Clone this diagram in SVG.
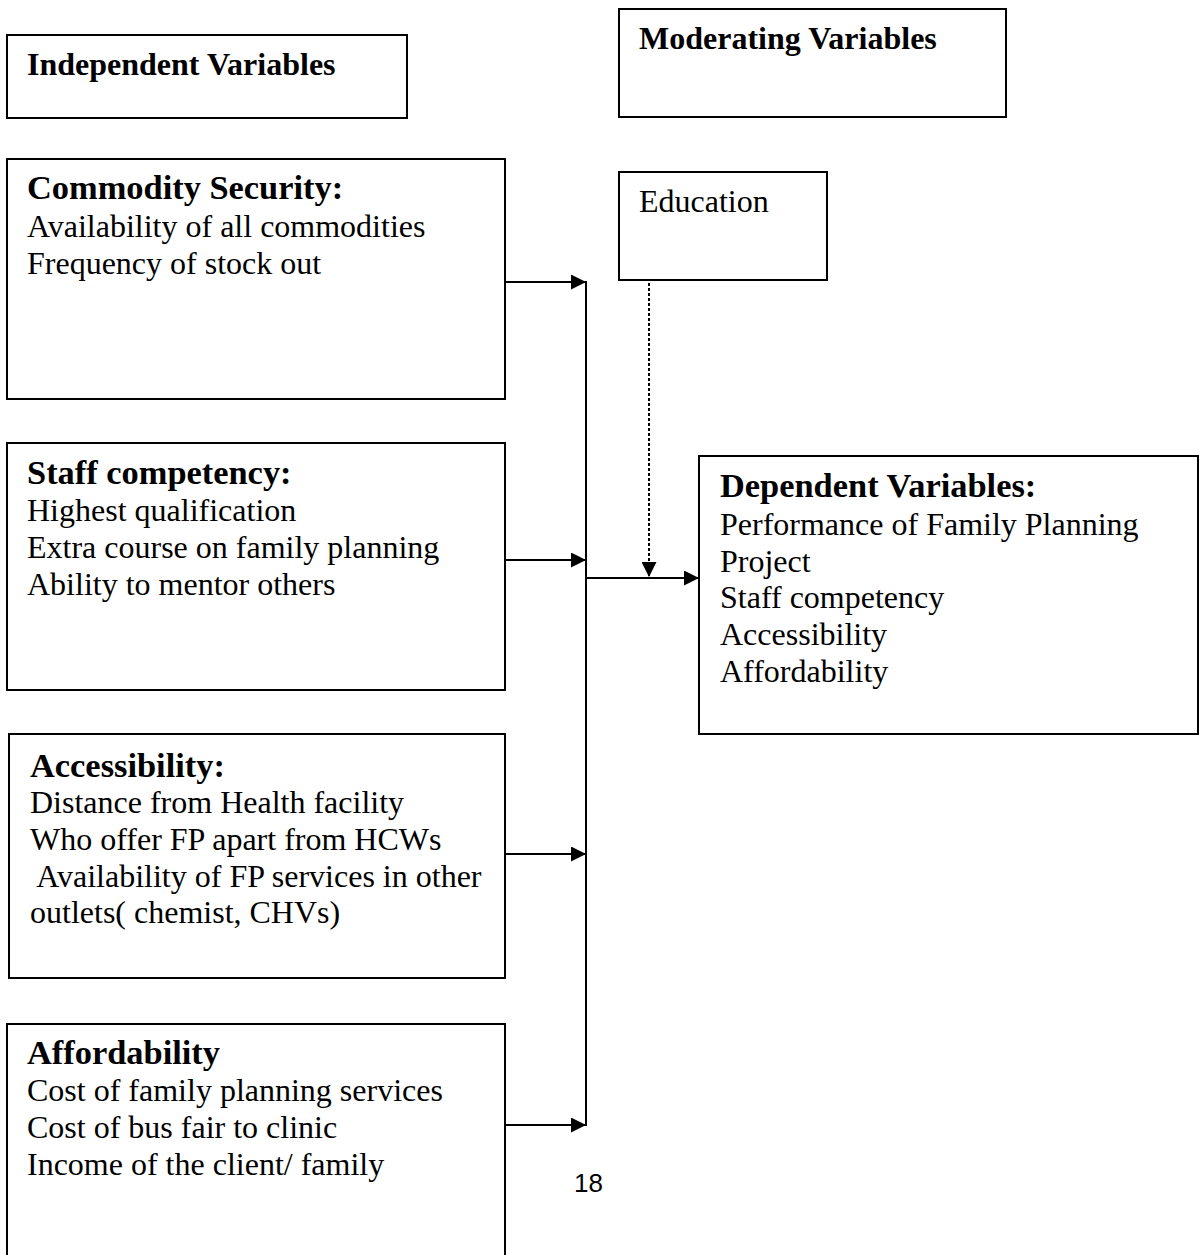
<svg xmlns="http://www.w3.org/2000/svg" width="1199" height="1255" viewBox="0 0 1199 1255">
<style>
rect.box{fill:#fff;stroke:#000;stroke-width:2}
text{font-family:"Liberation Serif","Times New Roman",serif;fill:#000}
.hd{font-size:32px;font-weight:bold}
.tt{font-size:34.4px;font-weight:bold}
.bd{font-size:32px}
.ln{stroke:#000;stroke-width:2;fill:none}
.dot{stroke:#000;stroke-width:2;fill:none;stroke-dasharray:3 2}
</style>
<defs>
<marker id="ah" markerWidth="15" markerHeight="15" refX="15" refY="7.5" orient="auto" markerUnits="userSpaceOnUse">
<path d="M0,0 L15,7.5 L0,15 Z" fill="#000"/>
</marker>
</defs>
<rect width="1199" height="1255" fill="#fff"/>
<g id="independent-header">
<rect class="box" x="7" y="35" width="400" height="83"/>
<text class="hd" x="27" y="75">Independent Variables</text>
</g>
<g id="moderating-header">
<rect class="box" x="619" y="9" width="387" height="108"/>
<text class="hd" x="639" y="49">Moderating Variables</text>
</g>
<g id="commodity-security">
<rect class="box" x="7" y="159" width="498" height="240"/>
<text class="tt" x="27" y="199">Commodity Security:</text>
<text class="bd" x="27" y="237">Availability of all commodities</text>
<text class="bd" x="27" y="274">Frequency of stock out</text>
</g>
<g id="education">
<rect class="box" x="619" y="172" width="208" height="108"/>
<text class="bd" x="639" y="212">Education</text>
</g>
<g id="staff-competency">
<rect class="box" x="7" y="443" width="498" height="247"/>
<text class="tt" x="27" y="484">Staff competency:</text>
<text class="bd" x="27" y="521">Highest qualification</text>
<text class="bd" x="27" y="558">Extra course on family planning</text>
<text class="bd" x="27" y="595">Ability to mentor others</text>
</g>
<g id="dependent">
<rect class="box" x="699" y="456" width="499" height="278"/>
<text class="tt" x="720" y="497">Dependent Variables:</text>
<text class="bd" x="720" y="535">Performance of Family Planning</text>
<text class="bd" x="720" y="572">Project</text>
<text class="bd" x="720" y="608">Staff competency</text>
<text class="bd" x="720" y="645">Accessibility</text>
<text class="bd" x="720" y="682">Affordability</text>
</g>
<g id="accessibility">
<rect class="box" x="9" y="734" width="496" height="244"/>
<text class="tt" x="30" y="777">Accessibility:</text>
<text class="bd" x="30" y="813">Distance from Health facility</text>
<text class="bd" x="30" y="850">Who offer FP apart from HCWs</text>
<text class="bd" x="30" y="887" xml:space="preserve"> Availability of FP services in other</text>
<text class="bd" x="30" y="923">outlets( chemist, CHVs)</text>
</g>
<g id="affordability">
<rect class="box" x="7" y="1024" width="498" height="240"/>
<text class="tt" x="27" y="1064">Affordability</text>
<text class="bd" x="27" y="1101">Cost of family planning services</text>
<text class="bd" x="27" y="1138">Cost of bus fair to clinic</text>
<text class="bd" x="27" y="1175">Income of the client/ family</text>
</g>
<g id="connectors">
<line class="ln" x1="505" y1="282" x2="586" y2="282" marker-end="url(#ah)"/>
<line class="ln" x1="505" y1="560" x2="586" y2="560" marker-end="url(#ah)"/>
<line class="ln" x1="505" y1="854" x2="586" y2="854" marker-end="url(#ah)"/>
<line class="ln" x1="505" y1="1125" x2="586" y2="1125" marker-end="url(#ah)"/>
<line class="ln" x1="586" y1="281" x2="586" y2="1126"/>
<line class="ln" x1="586" y1="578" x2="699" y2="578" marker-end="url(#ah)"/>
<line class="dot" x1="649" y1="283" x2="649" y2="577" marker-end="url(#ah)"/>
</g>
<text x="574" y="1192" style="font-family:'Liberation Sans',Arial,sans-serif;font-size:26px">18</text>
</svg>
